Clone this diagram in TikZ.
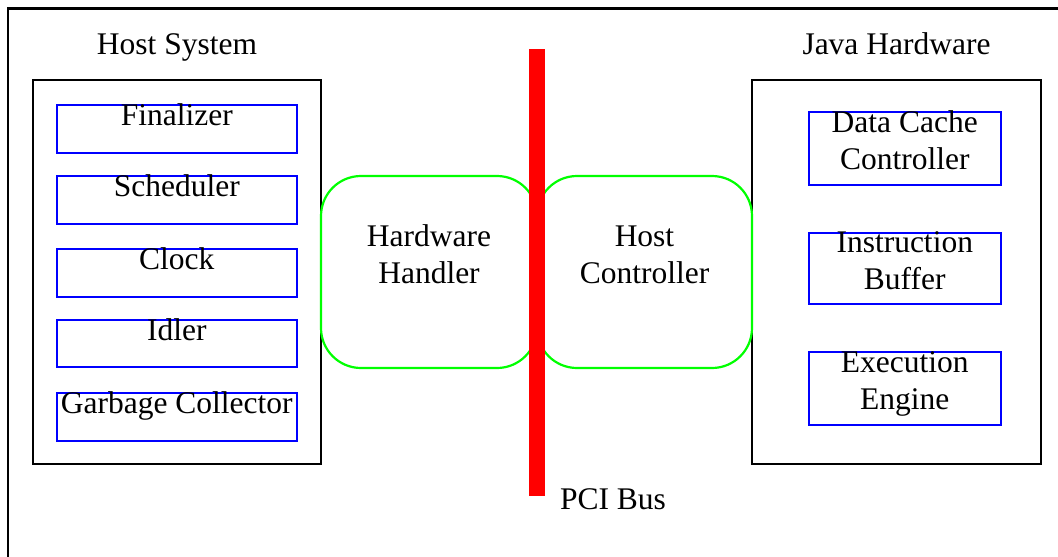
\documentclass[tikz,border=0pt]{standalone}
\usepackage{fontspec}
\setmainfont{Liberation Serif}
\usetikzlibrary{calc}
\definecolor{busred}{RGB}{255,0,0}
\definecolor{partblue}{RGB}{0,0,255}
\definecolor{linkgreen}{RGB}{0,255,0}
\tikzset{
  txt/.style={font=\fontsize{31.5}{37}\selectfont, inner sep=0pt, outer sep=0pt, align=center},
  sysbox/.style={draw=black, line width=2.4pt, rectangle, inner sep=0pt},
  partbox/.style={draw=partblue, line width=2pt, rectangle, inner sep=0pt},
  linkbox/.style={draw=linkgreen, line width=2.2pt, rectangle, rounded corners=40pt, inner sep=0pt},
  busbar/.style={fill=busred, draw=none, rectangle, inner sep=0pt, minimum width=16pt, minimum height=447pt}
}
\begin{document}
\begin{tikzpicture}[x=1pt, y=-1pt]
  \clip (0,0) rectangle (1058,557);
  \fill[white] (0,0) rectangle (1058,557);
  % outer frame (extends past the page on right and bottom)
  \draw[line width=2.4pt] (1080,8.5) -- (8,8.5) -- (8,580);

  % host side
  \node[sysbox, minimum width=288pt, minimum height=384pt] (host) at (177,272) {};
  \node[txt, anchor=base] (hostT) at (177,54) {Host System};

  \node[partbox, minimum width=240.5pt, minimum height=48pt] (fin) at (176.75,128.5) {};
  \node[partbox, minimum width=240.5pt, minimum height=47.5pt] (sch) at (176.75,199.75) {};
  \node[partbox, minimum width=240.5pt, minimum height=47.5pt] (clk) at (176.75,272.75) {};
  \node[partbox, minimum width=240.5pt, minimum height=47pt] (idl) at (176.75,343.5) {};
  \node[partbox, minimum width=240.5pt, minimum height=48pt] (gc) at (176.75,416.5) {};
  \node[txt, anchor=base] (finT) at ($(fin.north)+(0,21.5)$) {Finalizer};
  \node[txt, anchor=base] (schT) at ($(sch.north)+(0,21.5)$) {Scheduler};
  \node[txt, anchor=base] (clkT) at ($(clk.north)+(0,21.5)$) {Clock};
  \node[txt, anchor=base] (idlT) at ($(idl.north)+(0,21.5)$) {Idler};
  \node[txt, anchor=base] (gcT) at ($(gc.north)+(0,21.5)$) {Garbage Collector};

  % hardware side
  \node[sysbox, minimum width=289pt, minimum height=384pt] (java) at (896.5,272) {};
  \node[txt, anchor=base] (javaT) at (896.5,54) {Java Hardware};

  \node[partbox, minimum width=192.5pt, minimum height=73pt] (dcc) at (904.75,148.5) {};
  \node[partbox, minimum width=192.5pt, minimum height=71pt] (ib) at (904.75,268.5) {};
  \node[partbox, minimum width=192.5pt, minimum height=72.5pt] (ee) at (904.75,388.25) {};
  % base anchor of a two-line node sits on its second line
  \node[txt, anchor=base] (dccT) at ($(dcc.north)+(0,58)$) {Data Cache\\Controller};
  \node[txt, anchor=base] (ibT) at ($(ib.north)+(0,57.5)$) {Instruction\\Buffer};
  \node[txt, anchor=base] (eeT) at ($(ee.north)+(0,58)$) {Execution\\Engine};

  % handlers either side of the bus
  \node[linkbox, minimum width=216pt, minimum height=192pt] (hh) at (429,272) {};
  \node[linkbox, minimum width=215pt, minimum height=192pt] (hc) at (644.5,272) {};
  \node[txt, anchor=base] (hhT) at (429,283) {Hardware\\Handler};
  \node[txt, anchor=base] (hcT) at (644.5,283) {Host\\Controller};

  % PCI bus
  \node[busbar] (bus) at (537,272.5) {};
  \node[txt, anchor=base west] (busT) at (560,509) {PCI Bus};
\end{tikzpicture}
\end{document}
